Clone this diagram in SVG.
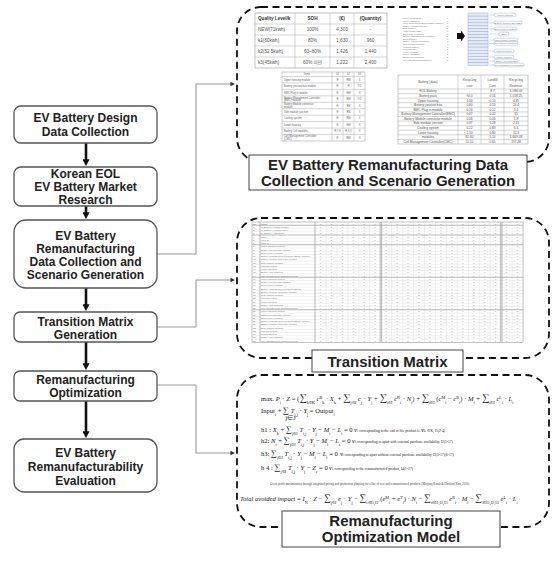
<svg xmlns="http://www.w3.org/2000/svg" width="555" height="561" viewBox="0 0 555 561">
<style>
.bx{fill:#fff;stroke:#555;stroke-width:1.3}
.bt{font-family:"Liberation Sans",Arial,sans-serif;font-weight:bold;font-size:12px;fill:#222;text-anchor:middle}
.flow{stroke:#111;stroke-width:2.6;fill:none}
.conn{stroke:#999;stroke-width:1.1;fill:none}
.panel{fill:none;stroke:#111;stroke-width:1.8;stroke-dasharray:7 4.5}
.cap{fill:#fff;stroke:#444;stroke-width:1}
.ct{font-family:"Liberation Sans",Arial,sans-serif;font-weight:bold;font-size:15px;fill:#222;text-anchor:middle}
.tl{stroke:#aaa;stroke-width:0.5;fill:none}
.t1{font-family:"Liberation Sans","Noto Sans CJK KR",sans-serif;font-size:4.6px;fill:#555}
.t1h{font-weight:bold;fill:#333}
.mid{text-anchor:middle}
.t2{font-family:"Liberation Sans",sans-serif;font-size:2.6px;fill:#666}
.t3{font-family:"Liberation Sans",sans-serif;font-size:3.2px;fill:#555}
.t4{font-family:"Liberation Sans",sans-serif;font-size:2.3px;fill:#777}
.stk{fill:#e4ecf7;stroke:#8ea3c2;stroke-width:0.4}
.lab{fill:#fff;stroke:#8ea3c2;stroke-width:0.4}
.mg{stroke:#ccc;stroke-width:0.3;fill:none}
.ms{stroke:#888;stroke-width:0.6;fill:none}
.mt{font-family:"Liberation Sans",sans-serif;font-size:2.4px;fill:#777}
.mn{font-family:"Liberation Sans",sans-serif;font-size:2.4px;fill:#888;letter-spacing:9.616px}
.eq{font-family:"Liberation Serif","Times New Roman",serif;font-size:6.6px;fill:#222}
.it{font-style:italic}
.sb{baseline-shift:sub;font-size:4.2px}
.sp{baseline-shift:super;font-size:4.2px}
.sg{font-size:10.5px}
.sg2{font-size:8.5px}
.sg3{font-size:9.5px}
.ex{font-size:3.6px}
.nt{font-family:"Liberation Serif",serif;font-size:3px;fill:#444}
</style>
<defs>
<marker id="ah" viewBox="0 0 8 8" refX="1" refY="4" markerWidth="7" markerHeight="7" markerUnits="userSpaceOnUse" orient="auto"><path d="M0,0 L8,4 L0,8 z" fill="#111"/></marker>
<marker id="ag" viewBox="0 0 8 8" refX="1" refY="4" markerWidth="4.5" markerHeight="4.5" markerUnits="userSpaceOnUse" orient="auto"><path d="M0,0 L8,4 L0,8 z" fill="#333"/></marker>
</defs>

<!-- connectors -->
<g id="connectors">
<path class="flow" d="M86,143 V160" marker-end="url(#ah)"/>
<path class="flow" d="M86,206 V213" marker-end="url(#ah)"/>
<path class="flow" d="M86,288 V305" marker-end="url(#ah)"/>
<path class="flow" d="M86,342 V364" marker-end="url(#ah)"/>
<path class="flow" d="M86,401 V432" marker-end="url(#ah)"/>
<path class="conn" d="M157,254 H196 V84 H231" marker-end="url(#ag)"/>
<path class="conn" d="M157,327 H196 V280 H231" marker-end="url(#ag)"/>
<path class="conn" d="M157,385 H196 V453 H231" marker-end="url(#ag)"/>
</g>

<!-- left flow nodes -->
<g id="n1"><rect class="bx" x="14" y="106" width="143" height="37" rx="7"/>
<text class="bt" x="85.5" y="122">EV Battery Design</text><text class="bt" x="85.5" y="136">Data Collection</text></g>
<g id="n2"><rect class="bx" x="14" y="167" width="143" height="39" rx="7"/>
<text class="bt" x="85.5" y="178">Korean EOL</text><text class="bt" x="85.5" y="191">EV Battery Market</text><text class="bt" x="85.5" y="204">Research</text></g>
<g id="n3"><rect class="bx" x="14" y="220" width="143" height="68" rx="12"/>
<text class="bt" x="85.5" y="240">EV Battery</text><text class="bt" x="85.5" y="253">Remanufacturing</text><text class="bt" x="85.5" y="266">Data Collection and</text><text class="bt" x="85.5" y="279">Scenario Generation</text></g>
<g id="n4"><rect class="bx" x="14" y="312" width="143" height="30" rx="6"/>
<text class="bt" x="85.5" y="326">Transition Matrix</text><text class="bt" x="85.5" y="338.5">Generation</text></g>
<g id="n5"><rect class="bx" x="14" y="371" width="143" height="30" rx="6"/>
<text class="bt" x="85.5" y="384">Remanufacturing</text><text class="bt" x="85.5" y="397">Optimization</text></g>
<g id="n6"><rect class="bx" x="14" y="439" width="143" height="53" rx="10"/>
<text class="bt" x="85.5" y="457">EV Battery</text><text class="bt" x="85.5" y="471">Remanufacturability</text><text class="bt" x="85.5" y="484.5">Evaluation</text></g>

<!-- panel 1 -->
<g id="panel1">
<rect class="panel" x="237" y="7" width="312" height="155" rx="24"/>
<rect x="255" y="13" width="132" height="55" fill="#fff" stroke="#999" stroke-width="0.6"/>
<path class="tl" d="M255,24 H387 M255,35 H387 M255,46 H387 M255,57 H387 M295,13 V68 M330,13 V68 M354,13 V68"/>
<text class="t1 t1h" x="258" y="20.3">Quality Level/k</text>
<text class="t1 t1h mid" x="312.5" y="20.3">SOH</text>
<text class="t1 t1h mid" x="342" y="20.3">(€)</text>
<text class="t1 t1h mid" x="370.5" y="20.3">(Quantity)</text>
<text class="t1" x="258" y="31.3">NEW(71kwh)</text><text class="t1 mid" x="312.5" y="31.3">100%</text><text class="t1 mid" x="342" y="31.3">4,303</text><text class="t1 mid" x="370.5" y="31.3">-</text>
<text class="t1" x="258" y="42.3">k1(60kwh)</text><text class="t1 mid" x="312.5" y="42.3">80%</text><text class="t1 mid" x="342" y="42.3">1,630</text><text class="t1 mid" x="370.5" y="42.3">960</text>
<text class="t1" x="258" y="53.3">k2(52.5kwh)</text><text class="t1 mid" x="312.5" y="53.3">60~80%</text><text class="t1 mid" x="342" y="53.3">1,426</text><text class="t1 mid" x="370.5" y="53.3">1,440</text>
<text class="t1" x="258" y="64.3">k3(45kwh)</text><text class="t1 mid" x="312.5" y="64.3">60% 미만</text><text class="t1 mid" x="342" y="64.3">1,222</text><text class="t1 mid" x="370.5" y="64.3">2,400</text>

<rect x="282" y="72" width="83" height="69" fill="#fff" stroke="#999" stroke-width="0.5"/>
<path class="tl" d="M282,76.5 H365 M282,82.95 H365 M282,89.4 H365 M282,95.85 H365 M282,102.3 H365 M282,108.75 H365 M282,115.2 H365 M282,121.65 H365 M282,128.1 H365 M282,134.55 H365 M332,72 V141 M343,72 V141 M354,72 V141"/>
<text class="t2 mid" x="307" y="75.3">Items</text><text class="t2 mid" x="337.5" y="75.3">k1</text><text class="t2 mid" x="348.5" y="75.3">k2</text><text class="t2 mid" x="359.5" y="75.3">k3</text>
<text class="t2" x="284" y="80.7">Upper housing module</text><text class="t2 mid" x="337.5" y="80.7">R</text><text class="t2 mid" x="348.5" y="80.7">RM</text><text class="t2 mid" x="359.5" y="80.7">X</text>
<text class="t2" x="284" y="87.1">Battery junction box module</text><text class="t2 mid" x="337.5" y="87.1">R</text><text class="t2 mid" x="348.5" y="87.1">R</text><text class="t2 mid" x="359.5" y="87.1">Y/Z</text>
<text class="t2" x="284" y="93.6">BMC Plug in module</text><text class="t2 mid" x="337.5" y="93.6">R</text><text class="t2 mid" x="348.5" y="93.6">RM</text><text class="t2 mid" x="359.5" y="93.6">X</text>
<text class="t2" x="284" y="98.6">Battery Management Controller</text><text class="t2" x="284" y="101.4">(BMC) module</text><text class="t2 mid" x="337.5" y="100">R</text><text class="t2 mid" x="348.5" y="100">RM</text><text class="t2 mid" x="359.5" y="100">Y/Z</text>
<text class="t2" x="284" y="105.1">Battery Module connector</text><text class="t2" x="284" y="107.9">module</text><text class="t2 mid" x="337.5" y="106.5">R</text><text class="t2 mid" x="348.5" y="106.5">RM</text><text class="t2 mid" x="359.5" y="106.5">X</text>
<text class="t2" x="284" y="112.9">Side module junction</text><text class="t2 mid" x="337.5" y="112.9">R</text><text class="t2 mid" x="348.5" y="112.9">RM</text><text class="t2 mid" x="359.5" y="112.9">X</text>
<text class="t2" x="284" y="119.4">Cooling system</text><text class="t2 mid" x="337.5" y="119.4">R</text><text class="t2 mid" x="348.5" y="119.4">RM</text><text class="t2 mid" x="359.5" y="119.4">X</text>
<text class="t2" x="284" y="125.8">Lower housing</text><text class="t2 mid" x="337.5" y="125.8">R</text><text class="t2 mid" x="348.5" y="125.8">RM</text><text class="t2 mid" x="359.5" y="125.8">X</text>
<text class="t2" x="284" y="132.3">Battery Cell modules</text><text class="t2 mid" x="337.5" y="132.3">R,Y,X</text><text class="t2 mid" x="348.5" y="132.3">R,Y,X</text><text class="t2 mid" x="359.5" y="132.3">X</text>
<text class="t2" x="284" y="137.3">Cell Management Controller</text><text class="t2" x="284" y="140.1">(CMC)</text><text class="t2 mid" x="337.5" y="138.7">R</text><text class="t2 mid" x="348.5" y="138.7">RM</text><text class="t2 mid" x="359.5" y="138.7">X</text>

<g class="t4">
<text x="403" y="19">Upper housing (EA)</text><text x="447" y="19">1</text>
<text x="403" y="21.6">Upper insulation</text><text x="447" y="21.6">1</text>
<text x="403" y="24.2">Pack cover/upper/BMC module bracket</text><text x="447" y="24.2">1</text>
<text x="403" y="26.8">Battery junction box (EA)</text><text x="447" y="26.8">1</text>
<text x="403" y="29.4">BJB bracket</text><text x="447" y="29.4">1</text>
<text x="403" y="32">High voltage cable</text><text x="447" y="32">1</text>
<text x="403" y="34.6">BMC Plug in module</text><text x="447" y="34.6">1</text>
<text x="403" y="37.2">Battery Management Controller</text><text x="447" y="37.2">1</text>
<text x="403" y="39.8">BMC bracket</text><text x="447" y="39.8">1</text>
<text x="403" y="42.4">Battery Module connector</text><text x="447" y="42.4">1</text>
<text x="403" y="45">Side module junction</text><text x="447" y="45">1</text>
<text x="403" y="47.6">Cooling system</text><text x="447" y="47.6">1</text>
<text x="403" y="50.2">Cooling plate</text><text x="447" y="50.2">1</text>
<text x="403" y="52.8">Lower housing</text><text x="447" y="52.8">1</text>
<text x="403" y="55.4">Lower insulation</text><text x="447" y="55.4">1</text>
<text x="403" y="58">Battery cell modules</text><text x="447" y="58">1</text>
<text x="403" y="60.6">Cell Management Controller</text><text x="447" y="60.6">1</text>
</g>
<path d="M457,33 H461 V30.5 L465,36 L461,41.5 V39 H457 z" fill="#111"/>
<g>
<rect class="stk" x="468" y="13" width="20" height="3.1"/><rect class="stk" x="468" y="16.1" width="20" height="3.1"/><rect class="stk" x="468" y="19.2" width="20" height="3.1"/><rect class="stk" x="468" y="22.3" width="20" height="3.1"/><rect class="stk" x="468" y="25.4" width="20" height="3.1"/><rect class="stk" x="468" y="28.5" width="20" height="3.1"/><rect class="stk" x="468" y="31.6" width="20" height="3.1"/><rect class="stk" x="468" y="34.7" width="20" height="3.1"/><rect class="stk" x="468" y="37.8" width="20" height="3.1"/><rect class="stk" x="468" y="40.9" width="20" height="3.1"/><rect class="stk" x="468" y="44" width="20" height="3.1"/><rect class="stk" x="468" y="47.1" width="20" height="3.1"/><rect class="stk" x="468" y="50.2" width="20" height="3.1"/><rect class="stk" x="468" y="53.3" width="20" height="3.1"/><rect class="stk" x="468" y="56.4" width="20" height="3.1"/><rect class="stk" x="468" y="59.5" width="20" height="3.1"/><rect class="stk" x="468" y="62.6" width="20" height="3.1"/>
</g>
<g>
<path stroke="#8ea3c2" stroke-width="0.4" d="M494,15 H489.5 M494,23 H489.5 M494,29 H489.5 M499,34 H489.5 M494,40 H489.5 M494,43.5 H489.5 M494,51 H489.5 M494,57 H489.5 M494,61 H489.5 M494,65 H489.5"/>
<rect class="lab" x="494" y="13.2" width="22" height="3.6" rx="1.8"/><text class="t4 mid" x="505" y="15.8">Upper housing</text>
<rect class="lab" x="494" y="21.2" width="28" height="3.6" rx="1.8"/><text class="t4 mid" x="508" y="23.8">Battery Junction Box(BJB)</text>
<rect class="lab" x="494" y="27.2" width="23" height="3.6" rx="1.8"/><text class="t4 mid" x="505.5" y="29.8">BMC Plug in Module</text>
<rect class="lab" x="499" y="32.2" width="10" height="3.6" rx="1.8"/><text class="t4 mid" x="504" y="34.8">BMC</text>
<rect class="lab" x="494" y="38.2" width="24" height="3.6" rx="1.8"/><text class="t4 mid" x="506" y="40.8">Side module junction</text>
<rect class="lab" x="494" y="41.7" width="24" height="3.6" rx="1.8"/><text class="t4 mid" x="506" y="44.3">Cell Module connector</text>
<rect class="lab" x="494" y="49.2" width="20" height="3.6" rx="1.8"/><text class="t4 mid" x="504" y="51.8">Cooling system</text>
<rect class="lab" x="494" y="55.2" width="20" height="3.6" rx="1.8"/><text class="t4 mid" x="504" y="57.8">Lower housing</text>
<rect class="lab" x="494" y="59.2" width="24" height="3.6" rx="1.8"/><text class="t4 mid" x="506" y="61.8">Battery Cell Modules</text>
<rect class="lab" x="494" y="63.2" width="30" height="3.6" rx="1.8"/><text class="t4 mid" x="509" y="65.8">Cell Management Controller</text>
</g>

<rect x="398" y="75" width="130" height="69" fill="#fff" stroke="#999" stroke-width="0.5"/>
<path class="tl" d="M398,89 H528 M398,93.58 H528 M398,98.17 H528 M398,102.75 H528 M398,107.33 H528 M398,111.92 H528 M398,116.5 H528 M398,121.08 H528 M398,125.67 H528 M398,130.25 H528 M398,134.83 H528 M398,139.42 H528 M458,75 V144 M481,75 V144 M504,75 V144"/>
<g class="t3">
<text class="mid" x="428" y="83.3">Battery (data)</text>
<text class="mid" x="469.5" y="81">Recycling</text><text class="mid" x="469.5" y="86.5">cost</text>
<text class="mid" x="492.5" y="81">Landfill</text><text class="mid" x="492.5" y="86.5">Cost</text>
<text class="mid" x="516" y="81">Recycling</text><text class="mid" x="516" y="86.5">Revenue</text>
<text class="mid" x="428" y="92.3">EOL Battery</text><text class="mid" x="469.5" y="92.3">-</text><text class="mid" x="492.5" y="92.3">8.7</text><text class="mid" x="516" y="92.3">1,086.04</text>
<text class="mid" x="428" y="96.9">Battery pack</text><text class="mid" x="469.5" y="96.9">90.0</text><text class="mid" x="492.5" y="96.9">0.16</text><text class="mid" x="516" y="96.9">1,018.25</text>
<text class="mid" x="428" y="101.5">Upper housing</text><text class="mid" x="469.5" y="101.5">1.00</text><text class="mid" x="492.5" y="101.5">0.10</text><text class="mid" x="516" y="101.5">4.35</text>
<text class="mid" x="428" y="106.05">Battery junction box</text><text class="mid" x="469.5" y="106.05">0.60</text><text class="mid" x="492.5" y="106.05">0.53</text><text class="mid" x="516" y="106.05">24.4</text>
<text class="mid" x="428" y="110.6">BMC Plug in module</text><text class="mid" x="469.5" y="110.6">0.24</text><text class="mid" x="492.5" y="110.6">0.12</text><text class="mid" x="516" y="110.6">3.4</text>
<text class="mid" x="428" y="115.2">Battery Management Controller(BMC)</text><text class="mid" x="469.5" y="115.2">0.67</text><text class="mid" x="492.5" y="115.2">0.42</text><text class="mid" x="516" y="115.2">35</text>
<text class="mid" x="428" y="119.8">Battery Module connector module</text><text class="mid" x="469.5" y="119.8">0.06</text><text class="mid" x="492.5" y="119.8">0.06</text><text class="mid" x="516" y="119.8">1.8</text>
<text class="mid" x="428" y="124.4">Side module junction</text><text class="mid" x="469.5" y="124.4">0.47</text><text class="mid" x="492.5" y="124.4">0.28</text><text class="mid" x="516" y="124.4">2.53</text>
<text class="mid" x="428" y="129">Cooling system</text><text class="mid" x="469.5" y="129">0.22</text><text class="mid" x="492.5" y="129">0.83</text><text class="mid" x="516" y="129">6.4</text>
<text class="mid" x="428" y="133.55">Lower housing</text><text class="mid" x="469.5" y="133.55">2.10</text><text class="mid" x="492.5" y="133.55">0.80</text><text class="mid" x="516" y="133.55">12.3</text>
<text class="mid" x="428" y="138.1">modules</text><text class="mid" x="469.5" y="138.1">81.60</text><text class="mid" x="492.5" y="138.1">5.10</text><text class="mid" x="516" y="138.1">1,669.08</text>
<text class="mid" x="428" y="142.7">Cell Management Controller(CMC)</text><text class="mid" x="469.5" y="142.7">11.10</text><text class="mid" x="492.5" y="142.7">0.65</text><text class="mid" x="516" y="142.7">197.48</text>
</g>

<rect class="cap" x="249" y="155" width="278" height="35"/>
<text class="ct" x="388" y="170">EV Battery Remanufacturing Data</text>
<text class="ct" x="388" y="186">Collection and Scenario Generation</text>
</g>

<!-- panel 2 : transition matrix -->
<g id="panel2">
<rect class="panel" x="237" y="218" width="312" height="140" rx="24"/>
<rect x="252" y="222" width="271.05" height="120.25" fill="#fff" stroke="#888" stroke-width="0.5"/>
<path class="mg" d="M252,228.5H523 M252,231.75H523 M252,238.25H523 M252,241.5H523 M252,248H523 M252,251.25H523 M252,254.5H523 M252,257.75H523 M252,261H523 M252,264.25H523 M252,267.5H523 M252,270.75H523 M252,274H523 M252,280.5H523 M252,283.75H523 M252,287H523 M252,290.25H523 M252,293.5H523 M252,296.75H523 M252,300H523 M252,303.25H523 M252,306.5H523 M252,313H523 M252,316.25H523 M252,319.5H523 M252,322.75H523 M252,326H523 M252,329.25H523 M252,332.5H523 M252,335.75H523 M252,339H523"/>
<path class="mg" d="M325.95,222V342 M336.9,222V342 M347.85,222V342 M358.8,222V342 M369.75,222V342 M391.65,222V342 M402.6,222V342 M413.55,222V342 M424.5,222V342 M435.45,222V342 M446.4,222V342 M457.35,222V342 M468.3,222V342 M479.25,222V342 M490.2,222V342 M512.1,222V342"/>
<path class="ms" d="M252,225.25H523 M252,235H523 M252,244.75H523 M252,277.25H523 M252,309.75H523 M260,222V342 M315,222V342 M380.2,222V342 M381.6,222V342 M500.6,222V342 M502,222V342"/>
<g class="mt">
<text x="253" y="224.5">No.</text><text x="261" y="224.5">Name</text>
<text x="253" y="227.75">1</text><text x="261" y="227.75">C_Battery X(NEW-71kwh)</text>
<text x="253" y="231">2</text><text x="261" y="231">C_Battery X(60kwh-80%)</text>
<text x="253" y="234.25">3</text><text x="261" y="234.25">C_Battery X(52.5kwh)</text>
<text x="253" y="237.5">4</text><text x="261" y="237.5">Pack A</text>
<text x="253" y="240.75">5</text><text x="261" y="240.75">Pack B</text>
<text x="253" y="244">6</text><text x="261" y="244">Pack C</text>
<text x="253" y="247.25">7</text><text x="261" y="247.25">Upper housing module</text>
<text x="253" y="250.5">8</text><text x="261" y="250.5">Battery junction box module</text>
<text x="253" y="253.75">9</text><text x="261" y="253.75">BMC Plug in module</text>
<text x="253" y="257">10</text><text x="261" y="257">Battery Management Controller(BMC) module</text>
<text x="253" y="260.25">11</text><text x="261" y="260.25">Battery Module connector module</text>
<text x="253" y="263.5">12</text><text x="261" y="263.5">Side module junction</text>
<text x="253" y="266.75">13</text><text x="261" y="266.75">Cooling system</text>
<text x="253" y="270">14</text><text x="261" y="270">Lower housing</text>
<text x="253" y="273.25">15</text><text x="261" y="273.25">Battery Cell modules</text>
<text x="253" y="276.5">16</text><text x="261" y="276.5">Cell Management Controller(CMC)</text>
<text x="253" y="279.75">17</text><text x="261" y="279.75">Upper housing module</text>
<text x="253" y="283">18</text><text x="261" y="283">Battery junction box module</text>
<text x="253" y="286.25">19</text><text x="261" y="286.25">BMC Plug in module</text>
<text x="253" y="289.5">20</text><text x="261" y="289.5">Battery Management Controller(BMC)</text>
<text x="253" y="292.75">21</text><text x="261" y="292.75">Battery Module connector module</text>
<text x="253" y="296">22</text><text x="261" y="296">Side module junction</text>
<text x="253" y="299.25">23</text><text x="261" y="299.25">Cooling system</text>
<text x="253" y="302.5">24</text><text x="261" y="302.5">Lower housing</text>
<text x="253" y="305.75">25</text><text x="261" y="305.75">Battery Cell modules</text>
<text x="253" y="309">26</text><text x="261" y="309">Cell Management Controller(CMC)</text>
<text x="253" y="312.25">27</text><text x="261" y="312.25">Upper housing module</text>
<text x="253" y="315.5">28</text><text x="261" y="315.5">Battery junction box module</text>
<text x="253" y="318.75">29</text><text x="261" y="318.75">BMC Plug in module</text>
<text x="253" y="322">30</text><text x="261" y="322">Battery Management Controller(BMC) module</text>
<text x="253" y="325.25">31</text><text x="261" y="325.25">Battery Module connector module</text>
<text x="253" y="328.5">32</text><text x="261" y="328.5">Side module junction</text>
<text x="253" y="331.75">33</text><text x="261" y="331.75">Cooling system</text>
<text x="253" y="335">34</text><text x="261" y="335">Lower housing</text>
<text x="253" y="338.25">35</text><text x="261" y="338.25">Battery Cell modules</text>
<text x="253" y="341.5">36</text><text x="261" y="341.5">Cell Management Controller(CMC)</text>
</g>
<g class="mn">
<text x="319.8" y="224.5">1234567891234567891</text>
<text x="319.8" y="227.75">0000000000000000000</text>
<text x="319.8" y="231">0000000000000000000</text>
<text x="319.8" y="234.25">0000000000000000000</text>
<text x="319.8" y="237.5">1100000000000000000</text>
<text x="319.8" y="240.75">1100000000000000000</text>
<text x="319.8" y="244">0100000000000000000</text>
<text x="319.8" y="247.25">0010000000000000000</text>
<text x="319.8" y="250.5">0010000000000000000</text>
<text x="319.8" y="253.75">0010000000000000000</text>
<text x="319.8" y="257">0010000000000000000</text>
<text x="319.8" y="260.25">0010000000000000000</text>
<text x="319.8" y="263.5">0010000000000000000</text>
<text x="319.8" y="266.75">0010000000000000000</text>
<text x="319.8" y="270">0010000000000000000</text>
<text x="319.8" y="273.25">0000100000000000000</text>
<text x="319.8" y="276.5">0000100000000000000</text>
<text x="319.8" y="279.75">0000000000000000000</text>
<text x="319.8" y="283">0001000000000000000</text>
<text x="319.8" y="286.25">0000000000000000000</text>
<text x="319.8" y="289.5">0001000000000000000</text>
<text x="319.8" y="292.75">0000000000000000000</text>
<text x="319.8" y="296">0000000000000000000</text>
<text x="319.8" y="299.25">0000000000000000000</text>
<text x="319.8" y="302.5">0000000000000000000</text>
<text x="319.8" y="305.75">0000100000000000000</text>
<text x="319.8" y="309">0000100000000000000</text>
<text x="319.8" y="312.25">0000000000000000000</text>
<text x="319.8" y="315.5">0001000000000000000</text>
<text x="319.8" y="318.75">0000000000000000000</text>
<text x="319.8" y="322">0001000000000000000</text>
<text x="319.8" y="325.25">0000000000000000000</text>
<text x="319.8" y="328.5">0000000000000000000</text>
<text x="319.8" y="331.75">0000000000000000000</text>
<text x="319.8" y="335">0000000000000000000</text>
<text x="319.8" y="338.25">0000100000000000000</text>
<text x="319.8" y="341.5">0000100000000000000</text>
</g>
<rect class="cap" x="312" y="350" width="151" height="22"/>
<text class="ct" x="387.5" y="366.5">Transition Matrix</text>
</g>

<!-- panel 3 : optimization model -->
<g id="panel3">
<rect class="panel" x="237" y="375" width="312" height="152" rx="24"/>
<text class="eq" x="261" y="401">max.  <tspan class="it">P</tspan><tspan class="sb">i</tspan> · <tspan class="it">Z</tspan> = (<tspan class="sg">∑</tspan><tspan class="sb">k∈K</tspan> <tspan class="it">c</tspan><tspan class="sp">B</tspan><tspan class="sb">k</tspan> · <tspan class="it">X</tspan><tspan class="sb">k</tspan> + <tspan class="sg">∑</tspan><tspan class="sb">j∈J</tspan> <tspan class="it">c</tspan><tspan class="sb">j</tspan> · <tspan class="it">Y</tspan><tspan class="sb">j</tspan> + <tspan class="sg">∑</tspan><tspan class="sb">i∈I</tspan> <tspan class="it">c</tspan><tspan class="sp">N</tspan><tspan class="sb">i</tspan> · <tspan class="it">N</tspan><tspan class="sb">i</tspan>) + <tspan class="sg">∑</tspan><tspan class="sb">i∈I</tspan> (<tspan class="it">c</tspan><tspan class="sp">M</tspan><tspan class="sb">i</tspan> − <tspan class="it">c</tspan><tspan class="sp">R</tspan><tspan class="sb">i</tspan>) · <tspan class="it">M</tspan><tspan class="sb">i</tspan> + <tspan class="sg">∑</tspan><tspan class="sb">i∈I</tspan> <tspan class="it">c</tspan><tspan class="sp">L</tspan><tspan class="sb">i</tspan> · <tspan class="it">L</tspan><tspan class="sb">i</tspan></text>
<text class="eq" x="261" y="413">Input<tspan class="sb">i</tspan> + <tspan class="sg2">∑</tspan> <tspan class="it">T</tspan><tspan class="sb">i,j</tspan> · <tspan class="it">Y</tspan><tspan class="sb">j</tspan> = Output<tspan class="sb">i</tspan></text>
<text class="eq" x="285.5" y="419.5" font-size="3.6px">j∈J</text>
<text class="eq" x="261" y="432">h1 :  <tspan class="it">X</tspan><tspan class="sb">k</tspan> +  <tspan class="sg2">∑</tspan><tspan class="sb">j∈J</tspan> <tspan class="it">T</tspan><tspan class="sb">i,j</tspan> · <tspan class="it">Y</tspan><tspan class="sb">j</tspan> −  <tspan class="it">M</tspan><tspan class="sb">i</tspan> −  <tspan class="it">L</tspan><tspan class="sb">i</tspan> = 0  <tspan class="ex">∀i corresponding to the end of life product k:  ∀k ∈ K, I1(2-4)</tspan></text>
<text class="eq" x="261" y="443">h2:  <tspan class="it">N</tspan><tspan class="sb">i</tspan> +  <tspan class="sg2">∑</tspan><tspan class="sb">j∈J</tspan> <tspan class="it">T</tspan><tspan class="sb">i,j</tspan> · <tspan class="it">Y</tspan><tspan class="sb">j</tspan> −  <tspan class="it">M</tspan><tspan class="sb">i</tspan> −  <tspan class="it">L</tspan><tspan class="sb">i</tspan> = 0  <tspan class="ex">∀i corresponding to apart with external purchase availability I2(5-17)</tspan></text>
<text class="eq" x="261" y="456">h3:  <tspan class="sg2">∑</tspan><tspan class="sb">j∈J</tspan> <tspan class="it">T</tspan><tspan class="sb">i,j</tspan> · <tspan class="it">Y</tspan><tspan class="sb">j</tspan> −  <tspan class="it">M</tspan><tspan class="sb">i</tspan> −  <tspan class="it">L</tspan><tspan class="sb">i</tspan> = 0  <tspan class="ex">∀i corresponding to apart without external purchase availability I3(5-17)(6-17)</tspan></text>
<text class="eq" x="261" y="470">h 4 :  <tspan class="sg2">∑</tspan><tspan class="sb">j∈J</tspan> <tspan class="it">T</tspan><tspan class="sb">i,j</tspan> · <tspan class="it">Y</tspan><tspan class="sb">j</tspan> −  <tspan class="it">Z</tspan><tspan class="sb">r</tspan> = 0  <tspan class="ex">∀i corresponding to the remanufactured product, I4(1-27)</tspan></text>
<text class="nt" x="270" y="485">Green profit maximization through integrated pricing and production planning for a line of new and remanufactured products (Minjung Kwak &amp; Harrison Kim, 2016)</text>
<text class="eq" x="240" y="501" font-size="5.6px"><tspan class="it">Total avoided impact</tspan> = <tspan class="it">I</tspan><tspan class="sb">N</tspan> · <tspan class="it">Z</tspan> − <tspan class="sg3">∑</tspan><tspan class="sb">j∈J</tspan> <tspan class="it">e</tspan><tspan class="sb">j</tspan> · <tspan class="it">Y</tspan><tspan class="sb">j</tspan> − <tspan class="sg3">∑</tspan><tspan class="sb">i∈I1,I2</tspan> (<tspan class="it">e</tspan><tspan class="sp">M</tspan><tspan class="sb">i</tspan> + <tspan class="it">e</tspan><tspan class="sp">T</tspan><tspan class="sb">i</tspan>) · <tspan class="it">N</tspan><tspan class="sb">i</tspan> − <tspan class="sg3">∑</tspan><tspan class="sb">i∈I1,I2,I3</tspan> <tspan class="it">e</tspan><tspan class="sp">R</tspan><tspan class="sb">i</tspan> · <tspan class="it">M</tspan><tspan class="sb">i</tspan> − <tspan class="sg3">∑</tspan><tspan class="sb">i∈I1,I2,I3</tspan> <tspan class="it">e</tspan><tspan class="sp">L</tspan><tspan class="sb">i</tspan> · <tspan class="it">L</tspan><tspan class="sb">i</tspan></text>
<rect class="cap" x="282" y="511" width="218" height="36"/>
<text class="ct" x="391" y="526">Remanufacturing</text>
<text class="ct" x="391" y="542">Optimization Model</text>
</g>
</svg>
